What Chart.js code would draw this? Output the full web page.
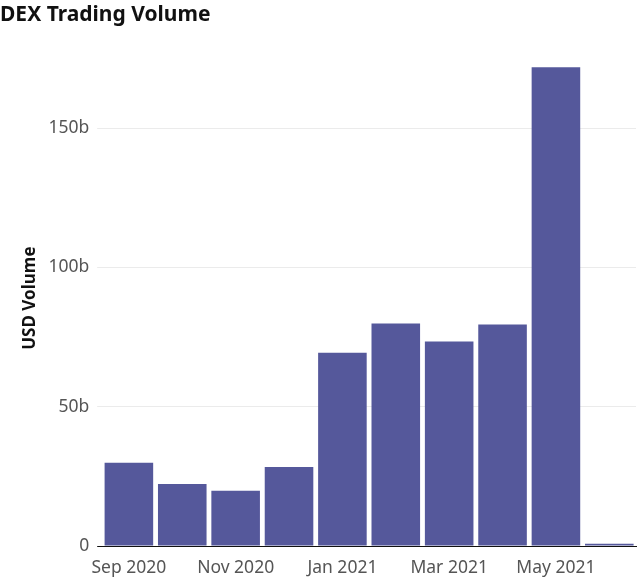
<!DOCTYPE html>
<html>
<head>
<meta charset="utf-8">
<script src="https://cdn.jsdelivr.net/npm/chart.js@4"></script>
<style>
  html, body { margin: 0; padding: 0; background: #fff; }
  #wrap { width: 640px; height: 586px; }
</style>
</head>
<body>
<div id="wrap"><canvas id="chart"></canvas></div>
<script>
const months = ["Sep 2020", "Oct 2020", "Nov 2020", "Dec 2020", "Jan 2021", "Feb 2021", "Mar 2021", "Apr 2021", "May 2021", "Jun 2021"];
const volume = [29.9, 22.3, 19.8, 28.4, 69.4, 79.9, 73.4, 79.5, 171.9, 0.8]; // billions USD
const yTicks = [0, 50, 100, 150];

const font = "'Noto Sans', 'Open Sans', sans-serif";

const ctx = document.getElementById("chart").getContext("2d");
new Chart(ctx, {
  type: "bar",
  data: {
    labels: months,
    datasets: [{
      label: "USD Volume",
      data: volume,
      backgroundColor: "#55589b",
      barPercentage: 0.91,
      categoryPercentage: 1,
    }],
  },
  options: {
    responsive: true,
    maintainAspectRatio: false,
    animation: false,
    layout: { padding: { left: 0, right: 4, top: 0, bottom: -5 } },
    plugins: {
      legend: { display: false },
      tooltip: { enabled: false },
      title: {
        display: true,
        text: "DEX Trading Volume",
        align: "start",
        color: "#111",
        font: { family: font, size: 21, weight: "bold" },
        padding: { top: 2, bottom: 23 },
      },
    },
    scales: {
      x: {
        grid: { display: false, drawTicks: false },
        border: { display: true, color: "#111", width: 1 },
        ticks: {
          autoSkip: false,
          maxRotation: 0,
          color: "#555",
          padding: 12,
          font: { family: font, size: 17.5 },
          callback: (v, i) => (i % 2 === 0 ? months[i] : ""),
        },
      },
      y: {
        min: 0,
        max: 178,
        afterBuildTicks: (axis) => {
          axis.ticks = yTicks.map((v) => ({ value: v }));
        },
        grid: {
          color: (c) => (c.tick && c.tick.value === 0 ? "#111" : "#ebebeb"),
          tickLength: 5,
        },
        border: { display: false },
        ticks: {
          color: "#555",
          padding: 8,
          font: { family: font, size: 17.5 },
          callback: (v) => (v === 0 ? "0" : v + "b"),
        },
        title: {
          display: true,
          text: "USD Volume",
          color: "#111",
          font: { family: font, size: 17, weight: "bold" },
          padding: { top: 20, bottom: 0 },
        },
      },
    },
  },
});
</script>
</body>
</html>
